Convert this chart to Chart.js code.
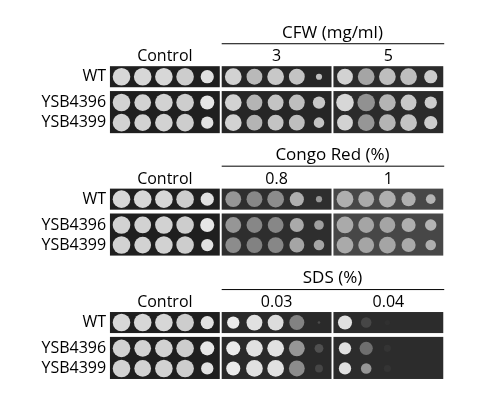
<!DOCTYPE html>
<html>
<head>
<meta charset="utf-8">
<script src="https://cdn.jsdelivr.net/npm/chart.js@4.4.0/dist/chart.umd.min.js"></script>
<style>
  html, body { margin: 0; padding: 0; background: #fff; }
  #wrap { width: 480px; height: 405px; }
</style>
</head>
<body>
<div id="wrap"><canvas id="spots"></canvas></div>
<script>
// strains and treatments
const strains = ['WT', 'YSB4396', 'YSB4399'];
const treatments = ['CFW (mg/ml)', 'Congo Red (%)', 'SDS (%)'];
const doseLabels = [['Control', '3', '5'], ['Control', '0.8', '1'], ['Control', '0.03', '0.04']];

// growth per spot (0..1), five dilutions, rows = strains
const controlGrowth = [[1, 1, 1, 1, 0.75], [1, 0.95, 1, 1, 0.8], [1, 0.95, 1, 1, 0.7]];
const controlShade = [[215, 215, 215, 205, 225], [210, 210, 210, 205, 230], [210, 210, 210, 205, 225]];

const cfw3Growth = [[0.95, 0.9, 0.95, 0.9, 0.35], [0.95, 0.9, 0.9, 0.9, 0.7], [0.95, 0.9, 0.9, 0.9, 0.6]];
const cfw3Shade = [[210, 185, 200, 195, 190], [210, 180, 195, 190, 200], [210, 180, 195, 190, 195]];
const cfw5Growth = [[0.9, 0.95, 0.95, 0.95, 0.75], [1, 1, 0.95, 0.9, 0.7], [0.9, 0.95, 0.95, 0.95, 0.75]];
const cfw5Shade = [[210, 165, 190, 190, 205], [215, 145, 180, 200, 205], [210, 150, 180, 195, 205]];

const cr08Growth = [[0.9, 0.9, 0.95, 0.8, 0.35], [0.9, 0.9, 0.9, 0.8, 0.55], [0.9, 0.9, 0.9, 0.85, 0.6]];
const cr08Shade = [[150, 135, 140, 175, 150], [150, 135, 135, 170, 160], [140, 130, 135, 165, 165]];
const cr1Growth = [[0.95, 0.9, 0.95, 0.8, 0.55], [0.95, 0.9, 0.9, 0.8, 0.65], [0.95, 0.9, 0.95, 0.8, 0.6]];
const cr1Shade = [[175, 170, 175, 175, 180], [170, 165, 165, 175, 180], [170, 165, 165, 170, 175]];

const sds003Growth = [[0.7, 0.9, 0.9, 0.85, 0.15], [0.8, 0.95, 0.95, 0.9, 0.5], [0.8, 0.95, 0.95, 0.9, 0.45]];
const sds003Shade = [[235, 225, 220, 130, 75], [235, 225, 225, 150, 80], [235, 225, 225, 140, 70]];
const sds004Growth = [[0.8, 0.6, 0.3, 0, 0], [0.7, 0.75, 0.4, 0, 0], [0.7, 0.6, 0.4, 0, 0]];
const sds004Shade = [[225, 70, 48, 0, 0], [225, 110, 52, 0, 0], [225, 150, 52, 0, 0]];

const blockGrowth = [[controlGrowth, cfw3Growth, cfw5Growth], [controlGrowth, cr08Growth, cr1Growth], [controlGrowth, sds003Growth, sds004Growth]];
const blockShade = [[controlShade, cfw3Shade, cfw5Shade], [controlShade, cr08Shade, cr1Shade], [controlShade, sds003Shade, sds004Shade]];

// layout (page pixels)
const blockTop = [0, 128, 257];
const panelLeft = [105, 221, 337];
const panelWidth = 114;
const spotOffset = [12, 34, 56, 78, 101];
const rowY = [71, 98, 119];
const panelBg = [['#1f1f1f', '#262626', '#2b2b2b'], ['#1f1f1f', '#2e2e2e', '#474747'], ['#1f1f1f', '#2a2a2a', '#2c2c2c']];
const fullRadius = 8.8;

// build one dataset per panel
const datasets = [];
blockGrowth.forEach((panels, b) => {
    panels.forEach((rows, p) => {
        const points = [];
        const colors = [];
        rows.forEach((spots, r) => {
            spots.forEach((g, i) => {
                if (g <= 0) return;
                points.push({ x: panelLeft[p] + spotOffset[i], y: blockTop[b] + rowY[r], r: fullRadius * g });
                const s = blockShade[b][p][r][i];
                colors.push(`rgb(${s},${s},${s})`);
            });
        });
        datasets.push({
            data: points,
            backgroundColor: colors,
            borderColor: 'rgba(0,0,0,0)',
            borderWidth: 0
        });
    });
});

const platePlugin = {
    id: 'plates',
    beforeDatasetsDraw(chart) {
        const { ctx, scales: { x, y } } = chart;
        ctx.save();
        blockTop.forEach((top, b) => {
            panelLeft.forEach((left, p) => {
                ctx.fillStyle = panelBg[b][p];
                const x0 = x.getPixelForValue(left), x1 = x.getPixelForValue(left + panelWidth);
                // WT plate and mutant plate
                [[top + 60, top + 82], [top + 86, top + 130]].forEach(([a, c]) => {
                    const y0 = y.getPixelForValue(a), y1 = y.getPixelForValue(c);
                    ctx.fillRect(x0, y0, x1 - x0, y1 - y0);
                });
            });
        });
        ctx.restore();
    },
    afterDraw(chart) {
        const { ctx, scales: { x, y } } = chart;
        ctx.save();
        ctx.fillStyle = '#000';
        ctx.textBaseline = 'middle';
        blockTop.forEach((top, b) => {
            ctx.font = '17px "Open Sans", sans-serif';
            ctx.textAlign = 'center';
            ctx.fillText(treatments[b], x.getPixelForValue(336), y.getPixelForValue(top + 25));
            ctx.strokeStyle = '#000';
            ctx.lineWidth = 1;
            ctx.beginPath();
            ctx.moveTo(x.getPixelForValue(221), y.getPixelForValue(top + 36) + 0.5);
            ctx.lineTo(x.getPixelForValue(452), y.getPixelForValue(top + 36) + 0.5);
            ctx.stroke();
            ctx.font = '16px "Open Sans", sans-serif';
            doseLabels[b].forEach((lab, p) => {
                const cx = p === 0 ? 162 : panelLeft[p] + panelWidth / 2;
                ctx.fillText(lab, x.getPixelForValue(cx), y.getPixelForValue(top + 50));
            });
            ctx.textAlign = 'right';
            strains.forEach((s, r) => {
                ctx.fillText(s, x.getPixelForValue(101), y.getPixelForValue(top + rowY[r]));
            });
        });
        ctx.restore();
    }
};

new Chart(document.getElementById('spots'), {
    type: 'bubble',
    data: { datasets },
    options: {
        responsive: true,
        maintainAspectRatio: false,
        animation: false,
        layout: { padding: 0 },
        plugins: { legend: { display: false }, tooltip: { enabled: false } },
        scales: {
            x: { type: 'linear', min: 0, max: 480, display: false },
            y: { type: 'linear', min: 0, max: 405, reverse: true, display: false }
        }
    },
    plugins: [platePlugin]
});
</script>
</body>
</html>
